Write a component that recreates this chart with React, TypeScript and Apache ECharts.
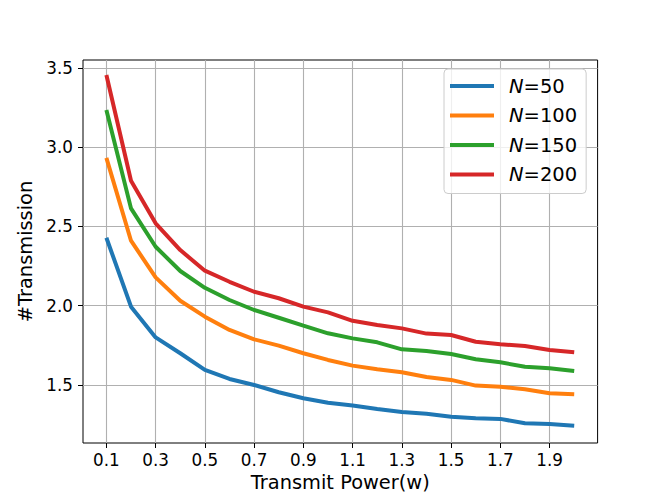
import React, { useEffect, useRef } from "react";
import * as echarts from "echarts";

const powers = [0.1, 0.2, 0.3, 0.4, 0.5, 0.6, 0.7, 0.8, 0.9, 1.0, 1.1, 1.2, 1.3, 1.4, 1.5, 1.6, 1.7, 1.8, 1.9, 2.0];
const n50 = [2.429, 1.994, 1.80, 1.70, 1.595, 1.538, 1.50, 1.454, 1.416, 1.388, 1.37, 1.349, 1.33, 1.319, 1.30, 1.29, 1.286, 1.258, 1.254, 1.243];
const n100 = [2.933, 2.41, 2.179, 2.031, 1.931, 1.847, 1.788, 1.748, 1.70, 1.658, 1.622, 1.599, 1.58, 1.55, 1.532, 1.496, 1.489, 1.473, 1.448, 1.441];
const n150 = [3.234, 2.614, 2.372, 2.219, 2.113, 2.036, 1.973, 1.924, 1.874, 1.826, 1.794, 1.769, 1.725, 1.715, 1.695, 1.662, 1.643, 1.615, 1.605, 1.588];
const n200 = [3.455, 2.788, 2.52, 2.351, 2.221, 2.151, 2.088, 2.047, 1.994, 1.958, 1.905, 1.878, 1.857, 1.824, 1.815, 1.773, 1.757, 1.746, 1.721, 1.706];
const seriesNames = ["N=50", "N=100", "N=150", "N=200"];
const seriesValues = [n50, n100, n150, n200];
const colors = ["#1f77b4", "#ff7f0e", "#2ca02c", "#d62728"];
const xTicks = [0.1, 0.3, 0.5, 0.7, 0.9, 1.1, 1.3, 1.5, 1.7, 1.9];
const yTicks = [1.5, 2.0, 2.5, 3.0, 3.5];

const FONT = "DejaVu Sans";

export default function App() {
  const ref = useRef<HTMLDivElement>(null);
  useEffect(() => {
    if (!ref.current) return;
    const chart = echarts.init(ref.current, null, { renderer: "svg" });
    chart.setOption({
      animation: false,
      textStyle: { fontFamily: FONT },
      grid: {
        left: 83,
        top: 60,
        right: 66.4,
        bottom: 55,
        show: true,
        borderColor: "#000",
        borderWidth: 1,
        backgroundColor: "transparent",
      },
      legend: {
        orient: "vertical",
        left: 444,
        top: 69,
        padding: [6, 9, 8, 6],
        itemWidth: 44,
        itemHeight: 4,
        itemGap: 7.5,
        icon: "rect",
        backgroundColor: "rgba(255,255,255,0.8)",
        borderColor: "#cccccc",
        borderWidth: 1,
        borderRadius: 4,
        data: seriesNames,
        formatter: (name: string) => `{i|N}{r|${name.slice(1)}}`,
        textStyle: {
          fontFamily: FONT,
          fontSize: 19.5,
          color: "#000",
          lineHeight: 22,
          rich: {
            i: { fontStyle: "italic", fontFamily: FONT, fontSize: 19.5, color: "#000", padding: [0, 0, 0, 10], lineHeight: 22 },
            r: { fontFamily: FONT, fontSize: 19.5, color: "#000", lineHeight: 22 },
          },
        },
      },
      xAxis: {
        type: "value",
        min: 0.005,
        max: 2.095,
        name: "Transmit Power(w)",
        nameLocation: "middle",
        nameGap: 30,
        nameTextStyle: { fontFamily: FONT, fontSize: 19.4, color: "#000" },
        axisLine: { show: false },
        axisTick: { show: true, length: 5, inside: false, customValues: xTicks, lineStyle: { color: "#000", width: 1 } },
        axisLabel: {
          customValues: xTicks,
          margin: 8,
          fontFamily: FONT,
          fontSize: 16.8,
          color: "#000",
          formatter: (v: number) => v.toFixed(1),
        },
        splitLine: { show: true, lineStyle: { color: "#b0b0b0", width: 1.1 } },
      },
      yAxis: {
        type: "value",
        min: 1.134,
        max: 3.55,
        name: "#Transmission",
        nameLocation: "middle",
        nameGap: 44,
        nameTextStyle: { fontFamily: FONT, fontSize: 19.4, color: "#000" },
        axisLine: { show: false },
        axisTick: { show: true, length: 5, inside: false, customValues: yTicks, lineStyle: { color: "#000", width: 1 } },
        axisLabel: {
          customValues: yTicks,
          margin: 10,
          fontFamily: FONT,
          fontSize: 16.8,
          color: "#000",
          formatter: (v: number) => v.toFixed(1),
        },
        splitLine: { show: true, lineStyle: { color: "#b0b0b0", width: 1.1 } },
      },
      series: seriesNames.map((name, i) => ({
        name,
        type: "line",
        data: powers.map((p, j) => [p, seriesValues[i][j]]),
        showSymbol: false,
        symbol: "none",
        color: colors[i],
        lineStyle: { color: colors[i], width: 4 },
      })),
    });
    return () => chart.dispose();
  }, []);
  return <div ref={ref} style={{ position: "absolute", left: 0, top: 0, width: 664, height: 498 }} />;
}
